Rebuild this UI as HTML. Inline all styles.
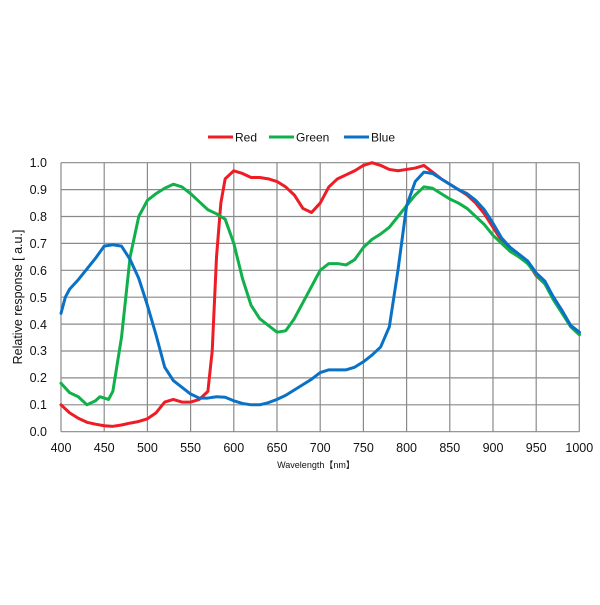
<!DOCTYPE html>
<html><head><style>
body{margin:0;background:#fff;}
svg text{font-family:"Liberation Sans","Noto Sans CJK JP",sans-serif;fill:#111;}
</style></head><body>
<svg width="600" height="600" viewBox="0 0 600 600" xmlns="http://www.w3.org/2000/svg">
<g stroke="#8a8a8a" stroke-width="1.2">
<line x1="61" y1="162.7" x2="579.3" y2="162.7"/><line x1="61" y1="189.6" x2="579.3" y2="189.6"/><line x1="61" y1="216.5" x2="579.3" y2="216.5"/><line x1="61" y1="243.4" x2="579.3" y2="243.4"/><line x1="61" y1="270.3" x2="579.3" y2="270.3"/><line x1="61" y1="297.2" x2="579.3" y2="297.2"/><line x1="61" y1="324.1" x2="579.3" y2="324.1"/><line x1="61" y1="351" x2="579.3" y2="351"/><line x1="61" y1="377.9" x2="579.3" y2="377.9"/><line x1="61" y1="404.8" x2="579.3" y2="404.8"/><line x1="61" y1="431.7" x2="579.3" y2="431.7"/>
<line x1="61" y1="162.7" x2="61" y2="431.7"/><line x1="104.2" y1="162.7" x2="104.2" y2="431.7"/><line x1="147.4" y1="162.7" x2="147.4" y2="431.7"/><line x1="190.6" y1="162.7" x2="190.6" y2="431.7"/><line x1="233.8" y1="162.7" x2="233.8" y2="431.7"/><line x1="277" y1="162.7" x2="277" y2="431.7"/><line x1="320.2" y1="162.7" x2="320.2" y2="431.7"/><line x1="363.4" y1="162.7" x2="363.4" y2="431.7"/><line x1="406.6" y1="162.7" x2="406.6" y2="431.7"/><line x1="449.8" y1="162.7" x2="449.8" y2="431.7"/><line x1="493" y1="162.7" x2="493" y2="431.7"/><line x1="536.2" y1="162.7" x2="536.2" y2="431.7"/><line x1="579.3" y1="162.7" x2="579.3" y2="431.7"/>
</g>
<g transform="translate(61,431.7) scale(0.864,-269)" fill="none" stroke-width="3" stroke-linejoin="round" stroke-linecap="round">
<polyline vector-effect="non-scaling-stroke" stroke="#ee1c25" points="0,.10 10,.07 20,.05 30,.035 40,.028 50,.022 60,.02 70,.025 80,.032 90,.038 100,.048 110,.07 120,.11 130,.12 140,.11 150,.11 160,.12 170,.15 175,.3 180,.65 185,.85 190,.94 200,.97 210,.96 220,.945 230,.945 240,.94 250,.93 260,.91 270,.88 280,.83 290,.815 300,.85 310,.91 320,.94 330,.955 340,.97 350,.99 360,1.0 370,.99 380,.975 390,.97 400,.975 410,.98 420,.99 430,.965 440,.94 450,.92 460,.90 470,.88 480,.85 490,.81 500,.76 510,.71 520,.68 530,.65 540,.63 550,.58 560,.55 570,.50 580,.45 590,.39 600,.365"/>
<polyline vector-effect="non-scaling-stroke" stroke="#10b04a" points="0,.18 10,.145 20,.13 30,.10 40,.115 45,.13 50,.125 55,.12 60,.15 70,.35 80,.65 90,.80 100,.86 110,.885 120,.905 130,.92 140,.91 150,.885 160,.855 170,.825 180,.81 190,.79 200,.70 210,.57 220,.47 230,.42 240,.395 250,.37 260,.375 270,.42 280,.48 290,.54 300,.60 310,.625 320,.625 330,.62 340,.64 350,.685 360,.715 370,.735 380,.76 390,.80 400,.84 410,.88 420,.91 430,.905 440,.885 450,.865 460,.85 470,.83 480,.80 490,.77 500,.73 510,.70 520,.67 530,.65 540,.625 550,.585 560,.55 570,.49 580,.44 590,.39 600,.36"/>
<polyline vector-effect="non-scaling-stroke" stroke="#0a72c6" points="0,.44 5,.5 10,.53 20,.565 30,.605 40,.645 50,.69 60,.695 70,.69 80,.64 90,.57 100,.47 110,.36 120,.24 130,.19 140,.165 150,.14 160,.125 170,.125 180,.13 190,.128 200,.115 210,.105 220,.10 230,.10 240,.108 250,.12 260,.135 270,.155 280,.175 290,.195 300,.22 310,.23 320,.23 330,.23 340,.24 350,.26 360,.285 370,.315 380,.39 390,.60 400,.84 410,.93 420,.965 430,.96 440,.94 450,.92 460,.90 470,.885 480,.86 490,.825 500,.775 510,.72 520,.685 530,.66 540,.635 550,.59 560,.56 570,.50 580,.45 590,.395 600,.37"/>
</g>
<g font-size="12.5" text-anchor="end">
<text x="47" y="167">1.0</text><text x="47" y="194">0.9</text><text x="47" y="221">0.8</text><text x="47" y="248">0.7</text><text x="47" y="275">0.6</text><text x="47" y="302">0.5</text><text x="47" y="329">0.4</text><text x="47" y="355">0.3</text><text x="47" y="382">0.2</text><text x="47" y="409">0.1</text><text x="47" y="436">0.0</text>
</g>
<g font-size="12.5" text-anchor="middle">
<text x="61" y="452">400</text><text x="104.2" y="452">450</text><text x="147.4" y="452">500</text><text x="190.6" y="452">550</text><text x="233.8" y="452">600</text><text x="277" y="452">650</text><text x="320.2" y="452">700</text><text x="363.4" y="452">750</text><text x="406.6" y="452">800</text><text x="449.8" y="452">850</text><text x="493" y="452">900</text><text x="536.2" y="452">950</text><text x="579.3" y="452">1000</text>
</g>
<text x="316" y="468" font-size="9" text-anchor="middle">Wavelength【nm】</text>
<text transform="translate(22,297) rotate(-90)" font-size="12.5" text-anchor="middle">Relative response [ a.u.]</text>
<g stroke-width="3">
<line x1="208" y1="137" x2="233" y2="137" stroke="#ee1c25"/>
<line x1="269" y1="137" x2="294" y2="137" stroke="#10b04a"/>
<line x1="344" y1="137" x2="369" y2="137" stroke="#0a72c6"/>
</g>
<g font-size="12">
<text x="235" y="141.5">Red</text><text x="296" y="141.5">Green</text><text x="371" y="141.5">Blue</text>
</g>
</svg>
</body></html>
